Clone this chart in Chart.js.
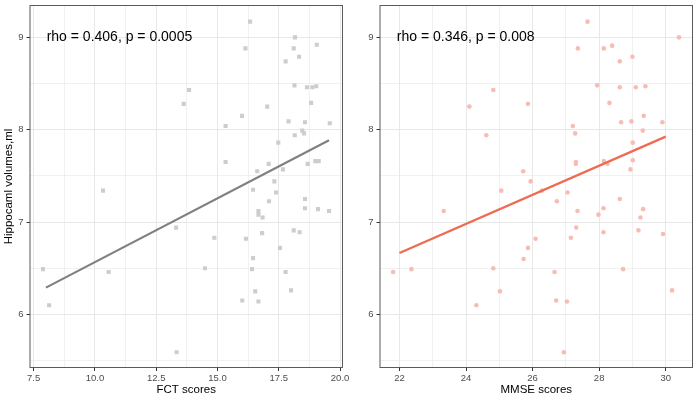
<!DOCTYPE html>
<html>
<head>
<meta charset="utf-8">
<script src="https://cdn.jsdelivr.net/npm/chart.js@4"></script>
<style>
  body { margin: 0; background: #fff; }
  .wrap { display: flex; width: 699px; height: 402px; }
</style>
</head>
<body>
<div class="wrap">
  <canvas id="fct" width="350" height="402"></canvas>
  <canvas id="mmse" width="349" height="402"></canvas>
</div>
<script>
// FCT panel
const fctScores = [16.33, 16.14, 18.16, 19.05, 18.11, 18.33, 17.78, 18.14, 18.65, 18.87, 19.03, 13.84, 13.62, 18.82, 17.03, 16.00,
  15.33, 17.90, 18.57, 19.58, 18.46, 18.53, 18.15, 17.48, 15.33, 17.09, 18.68, 18.99, 19.13, 16.62, 17.67, 17.32,
  16.45, 17.39, 10.33, 18.57, 17.10, 18.57, 19.10, 19.55, 16.67, 16.67, 16.84, 13.31, 14.87, 16.16, 16.82, 18.11,
  18.35, 17.55, 16.45, 7.88, 10.56, 14.49, 16.41, 17.78, 16.54, 18.00, 16.01, 16.67, 8.13, 13.33];
const fctVolumes = [9.17, 8.88, 9.00, 8.92, 8.88, 8.79, 8.74, 8.48, 8.46, 8.46, 8.47, 8.43, 8.28, 8.29, 8.25, 8.15,
  8.04, 8.09, 8.08, 8.07, 7.99, 7.96, 7.94, 7.86, 7.65, 7.63, 7.63, 7.66, 7.66, 7.55, 7.57, 7.44,
  7.35, 7.32, 7.34, 7.25, 7.225, 7.15, 7.14, 7.12, 7.12, 7.08, 7.05, 6.94, 6.83, 6.82, 6.88, 6.91,
  6.89, 6.72, 6.61, 6.49, 6.46, 6.50, 6.49, 6.46, 6.25, 6.26, 6.15, 6.14, 6.10, 5.59];
const fctLineX = [8.0, 19.55];
const fctLineY = [6.29, 7.885];
const fctTicks = [7.5, 10, 12.5, 15, 17.5, 20];

// MMSE panel
const mmseScores = [27.65, 27.36, 28.14, 28.39, 30.40, 29.00, 28.62, 27.94, 28.62, 29.10, 29.39, 24.82, 25.86, 28.31, 24.10, 29.34,
  27.21, 28.97, 28.66, 29.90, 29.31, 27.28, 24.61, 29.01, 27.30, 27.30, 28.14, 28.25, 29.01, 28.94, 25.72, 25.94,
  25.06, 26.28, 27.05, 28.62, 26.73, 23.33, 27.35, 28.13, 29.32, 27.98, 29.24, 27.31, 26.09, 27.15, 28.13, 29.18,
  29.92, 25.86, 25.73, 21.81, 22.36, 24.82, 26.66, 28.72, 25.02, 30.19, 24.31, 26.71, 27.03, 26.94];
const mmseVolumes = [9.17, 8.88, 8.88, 8.91, 9.00, 8.79, 8.74, 8.48, 8.46, 8.46, 8.47, 8.43, 8.28, 8.29, 8.25, 8.15,
  8.04, 8.09, 8.08, 8.08, 7.99, 7.96, 7.94, 7.86, 7.65, 7.63, 7.66, 7.63, 7.67, 7.57, 7.55, 7.44,
  7.34, 7.34, 7.32, 7.25, 7.225, 7.12, 7.12, 7.15, 7.14, 7.08, 7.05, 6.94, 6.82, 6.83, 6.89, 6.91,
  6.87, 6.72, 6.60, 6.46, 6.49, 6.50, 6.46, 6.49, 6.25, 6.26, 6.10, 6.15, 6.14, 5.59];
const mmseLineX = [22.0, 30.0];
const mmseLineY = [6.665, 7.925];
const mmseTicks = [22, 24, 26, 28, 30];

const volumeTicks = [6, 7, 8, 9];
const rhoLabels = ['rho = 0.406, p = 0.0005', 'rho = 0.346, p = 0.008'];

const FONT = '"Liberation Sans", Arial, sans-serif';

// majors plus the half-way minor gridlines, kept inside the axis range
function withMinors(majors, lo, hi) {
  const step = majors[1] - majors[0];
  const out = [];
  majors.forEach(v => { out.push(v - step / 2); out.push(v); });
  out.push(majors[majors.length - 1] + step / 2);
  return out.filter(v => v >= lo && v <= hi);
}

const panelBox = {
  id: 'panelBox',
  afterDatasetsDraw(chart, args, opts) {
    const { ctx, chartArea: a, scales } = chart;
    ctx.save();
    ctx.strokeStyle = '#5a5a5a';
    ctx.lineWidth = 1;
    ctx.strokeRect(a.left + 0.5, a.top + 0.5, a.right - a.left - 1, a.bottom - a.top - 1);
    ctx.fillStyle = '#000';
    ctx.font = '14px ' + FONT;
    ctx.textAlign = 'left';
    ctx.textBaseline = 'middle';
    ctx.fillText(opts.text, scales.x.getPixelForValue(opts.x), scales.y.getPixelForValue(opts.y));
    ctx.restore();
  }
};

function makeChart(id, cfg) {
  const yMin = 5.42, yMax = 9.35;
  const pts = cfg.xs.map((x, i) => ({ x: x, y: cfg.ys[i] }));
  const line = cfg.lineX.map((x, i) => ({ x: x, y: cfg.lineY[i] }));
  const xGrid = withMinors(cfg.xTicks, cfg.xMin, cfg.xMax);
  const yGrid = withMinors(volumeTicks, yMin, yMax);
  const isMajorX = v => cfg.xTicks.some(t => Math.abs(t - v) < 1e-9);
  const isMajorY = v => volumeTicks.some(t => Math.abs(t - v) < 1e-9);

  return new Chart(document.getElementById(id), {
    type: 'scatter',
    data: {
      datasets: [
        {
          type: 'line',
          data: line,
          borderColor: cfg.lineColor,
          borderWidth: 2.2,
          pointRadius: 0,
          fill: false
        },
        {
          data: pts,
          pointStyle: cfg.pointStyle,
          pointRadius: cfg.pointRadius,
          backgroundColor: cfg.pointColor,
          borderWidth: 0
        }
      ]
    },
    options: {
      responsive: false,
      animation: false,
      layout: { padding: { top: 5, right: cfg.padRight, left: 0, bottom: 0 } },
      plugins: {
        legend: { display: false },
        tooltip: { enabled: false },
        panelBox: { text: cfg.label, x: cfg.labelX, y: 9.0 }
      },
      scales: {
        x: {
          type: 'linear',
          min: cfg.xMin,
          max: cfg.xMax,
          afterBuildTicks: s => { s.ticks = xGrid.map(v => ({ value: v })); },
          afterFit: s => { s.height = 34; s.paddingLeft = 0; s.paddingRight = 0; },
          border: { display: false },
          grid: {
            color: '#e8e8e8',
            lineWidth: c => (c.tick && isMajorX(c.tick.value)) ? 1 : 0.6,
            tickColor: c => (c.tick && isMajorX(c.tick.value)) ? '#333' : 'rgba(0,0,0,0)',
            tickLength: 3
          },
          ticks: {
            autoSkip: false,
            maxRotation: 0,
            padding: 2,
            color: '#4d4d4d',
            font: { family: FONT, size: 9.5 },
            callback: v => isMajorX(v) ? cfg.fmt(v) : ''
          },
          title: {
            display: true,
            text: cfg.xTitle,
            color: '#000',
            font: { family: FONT, size: 11.5 },
            padding: { top: 0, bottom: 5 }
          }
        },
        y: {
          type: 'linear',
          min: yMin,
          max: yMax,
          afterBuildTicks: s => { s.ticks = yGrid.map(v => ({ value: v })); },
          afterFit: s => { s.width = 29.5; s.paddingTop = 0; s.paddingBottom = 0; },
          border: { display: false },
          grid: {
            color: '#e8e8e8',
            lineWidth: c => (c.tick && isMajorY(c.tick.value)) ? 1 : 0.6,
            tickColor: c => (c.tick && isMajorY(c.tick.value)) ? '#333' : 'rgba(0,0,0,0)',
            tickLength: 3
          },
          ticks: {
            autoSkip: false,
            padding: 3,
            color: '#4d4d4d',
            font: { family: FONT, size: 9.5 },
            callback: v => isMajorY(v) ? String(v) : ''
          },
          title: {
            display: cfg.yTitle !== '',
            text: cfg.yTitle,
            color: '#000',
            font: { family: FONT, size: 11.5 },
            padding: { top: 2, bottom: 0 }
          }
        }
      }
    },
    plugins: [panelBox]
  });
}

makeChart('fct', {
  xs: fctScores, ys: fctVolumes, lineX: fctLineX, lineY: fctLineY,
  xTicks: fctTicks, xMin: 7.33, xMax: 20.12, fmt: v => v.toFixed(1),
  xTitle: 'FCT scores', yTitle: 'Hippocaml volumes,ml',
  pointStyle: 'rect', pointRadius: 2.9, pointColor: '#cdcdcd', lineColor: '#808080',
  label: rhoLabels[0], labelX: 8.03, padRight: 7
});

makeChart('mmse', {
  xs: mmseScores, ys: mmseVolumes, lineX: mmseLineX, lineY: mmseLineY,
  xTicks: mmseTicks, xMin: 21.4, xMax: 30.82, fmt: v => String(v),
  xTitle: 'MMSE scores', yTitle: '',
  pointStyle: 'circle', pointRadius: 2.3, pointColor: '#f8bcb4', lineColor: '#ee6a50',
  label: rhoLabels[1], labelX: 21.92, padRight: 6
});
</script>
</body>
</html>
